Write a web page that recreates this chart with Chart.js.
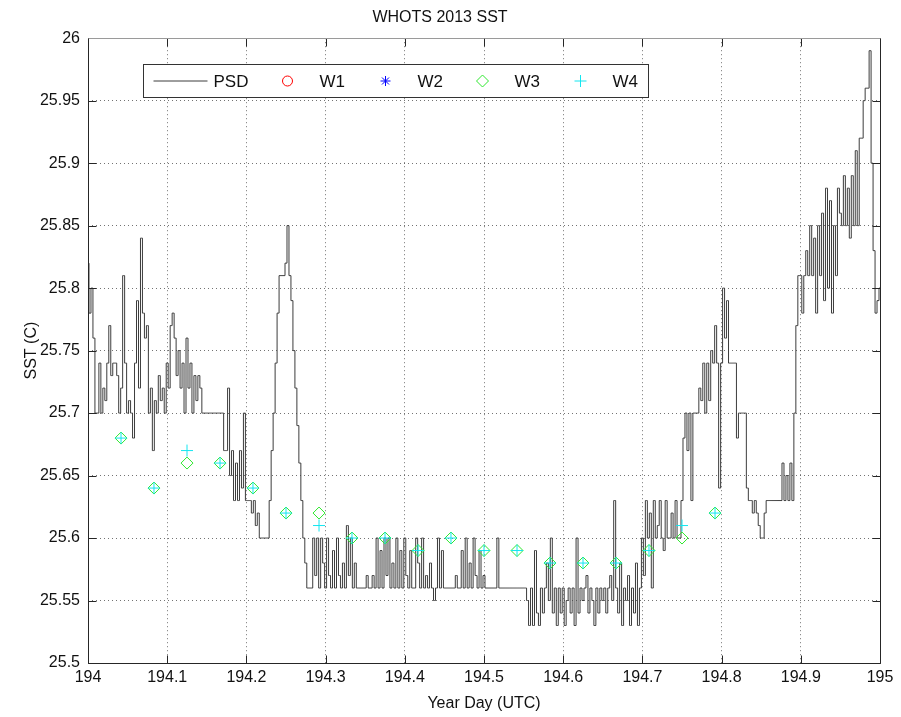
<!DOCTYPE html>
<html>
<head>
<meta charset="utf-8">
<title>WHOTS 2013 SST</title>
<script src="https://cdn.jsdelivr.net/npm/chart.js@4.4.0/dist/chart.umd.min.js"></script>
<style>
  html, body { margin: 0; padding: 0; background: #fff; }
  canvas { display: block; }
</style>
</head>
<body>
<canvas id="sstChart" width="901" height="717"></canvas>
<script>
// PSD record, one sample every 0.0025 day from day 194.0
const psdStart = 194.0;
const psdStep = 0.0025;
const psdSST = [
    25.82,25.78,25.80,25.76,25.70,25.70,25.74,25.70,25.72,25.71,25.74,25.77,25.73,25.74,25.74,25.73,25.70,25.72,25.81,25.74,
    25.70,25.71,25.70,25.68,25.74,25.79,25.72,25.84,25.78,25.76,25.77,25.70,25.72,25.67,25.71,25.70,25.73,25.71,25.72,25.70,
    25.74,25.72,25.77,25.78,25.76,25.73,25.75,25.72,25.74,25.70,25.76,25.72,25.74,25.70,25.73,25.71,25.73,25.72,25.70,25.70,
    25.70,25.70,25.70,25.70,25.70,25.70,25.70,25.70,25.70,25.67,25.67,25.72,25.65,25.67,25.63,25.66,25.63,25.67,25.64,25.70,
    25.63,25.63,25.63,25.62,25.63,25.61,25.62,25.60,25.60,25.60,25.60,25.60,25.63,25.67,25.70,25.74,25.78,25.81,25.81,25.81,
    25.82,25.85,25.81,25.79,25.75,25.72,25.69,25.66,25.63,25.60,25.58,25.56,25.56,25.56,25.60,25.57,25.60,25.56,25.60,25.58,
    25.56,25.60,25.57,25.56,25.59,25.56,25.60,25.57,25.56,25.58,25.56,25.61,25.57,25.60,25.56,25.58,25.56,25.56,25.56,25.56,
    25.56,25.57,25.56,25.56,25.57,25.56,25.60,25.56,25.59,25.56,25.60,25.57,25.60,25.56,25.58,25.56,25.60,25.56,25.59,25.56,
    25.60,25.57,25.56,25.59,25.56,25.56,25.60,25.58,25.56,25.60,25.56,25.57,25.56,25.58,25.56,25.55,25.56,25.60,25.56,25.59,
    25.56,25.56,25.56,25.56,25.56,25.56,25.57,25.56,25.56,25.59,25.56,25.60,25.56,25.58,25.56,25.60,25.57,25.56,25.59,25.56,
    25.57,25.56,25.56,25.56,25.56,25.56,25.56,25.60,25.56,25.56,25.56,25.56,25.56,25.56,25.56,25.56,25.56,25.56,25.56,25.56,
    25.56,25.56,25.55,25.53,25.56,25.53,25.59,25.54,25.53,25.56,25.54,25.56,25.58,25.55,25.60,25.54,25.56,25.53,25.56,25.54,
    25.56,25.53,25.55,25.56,25.54,25.56,25.53,25.60,25.54,25.56,25.55,25.56,25.57,25.54,25.56,25.55,25.53,25.56,25.54,25.56,
    25.55,25.56,25.54,25.56,25.57,25.55,25.63,25.56,25.54,25.58,25.53,25.56,25.55,25.57,25.53,25.56,25.54,25.58,25.53,25.56,
    25.60,25.57,25.63,25.60,25.62,25.56,25.63,25.60,25.61,25.63,25.60,25.59,25.63,25.60,25.60,25.62,25.60,25.63,25.60,25.60,
    25.63,25.68,25.70,25.67,25.70,25.63,25.70,25.70,25.70,25.72,25.71,25.74,25.70,25.74,25.71,25.75,25.74,25.77,25.74,25.64,
    25.74,25.80,25.76,25.79,25.74,25.74,25.74,25.74,25.68,25.70,25.70,25.70,25.70,25.64,25.63,25.63,25.62,25.63,25.62,25.61,
    25.60,25.60,25.62,25.63,25.63,25.63,25.63,25.63,25.63,25.63,25.63,25.66,25.63,25.65,25.63,25.66,25.63,25.70,25.77,25.81,
    25.81,25.78,25.81,25.83,25.81,25.85,25.81,25.84,25.78,25.85,25.81,25.86,25.79,25.88,25.80,25.87,25.78,25.85,25.81,25.88,
    25.86,25.85,25.89,25.85,25.88,25.84,25.89,25.85,25.91,25.85,25.92,25.92,25.95,25.96,25.96,25.99,25.90,25.83,25.78,25.79,
    25.80
];

// hourly sensor samples
const wDays = [194.0417, 194.0833, 194.125, 194.1667, 194.2083, 194.25, 194.2917, 194.3333, 194.375, 194.4167,
               194.4583, 194.5, 194.5417, 194.5833, 194.625, 194.6667, 194.7083, 194.75, 194.7917];
const w1SST = [];
const w2SST = [];
const w3SST = [25.68, 25.64, 25.66, 25.66, 25.64, 25.62, 25.62, 25.60, 25.60, 25.59,
               25.60, 25.59, 25.59, 25.58, 25.58, 25.58, 25.59, 25.60, 25.62];
const w4SST = [25.68, 25.64, 25.67, 25.66, 25.64, 25.62, 25.61, 25.60, 25.60, 25.59,
               25.60, 25.59, 25.59, 25.58, 25.58, 25.58, 25.59, 25.61, 25.62];

const xTicks = [194, 194.1, 194.2, 194.3, 194.4, 194.5, 194.6, 194.7, 194.8, 194.9, 195];
const yTicks = [25.5, 25.55, 25.6, 25.65, 25.7, 25.75, 25.8, 25.85, 25.9, 25.95, 26];

const FONT = 'Liberation Sans, Arial, Helvetica, sans-serif';

const toPoints = (days, vals) => vals.map((v, i) => ({ x: days[i], y: v }));
const psdPoints = psdSST.map((v, i) => ({ x: psdStart + i * psdStep, y: v }));
const fmt = v => String(Number(v.toFixed(2)));

// MATLAB style box, inward ticks and a boxed legend inside the axes
const matlabAxes = {
    id: 'matlabAxes',
    afterDatasetsDraw(chart) {
        const { ctx, chartArea: a, scales: { x, y } } = chart;
        const L = Math.round(a.left) + 0.5, R = Math.round(a.right) + 0.5;
        const T = Math.round(a.top) + 0.5, B = Math.round(a.bottom) + 0.5;
        const tick = 8;
        ctx.save();
        ctx.lineWidth = 1;
        ctx.strokeStyle = '#262626';
        ctx.beginPath();
        x.ticks.forEach(t => {
            const px = Math.round(x.getPixelForValue(t.value)) + 0.5;
            ctx.moveTo(px, B); ctx.lineTo(px, B - tick);
            ctx.moveTo(px, T); ctx.lineTo(px, T + tick);
        });
        y.ticks.forEach(t => {
            const py = Math.round(y.getPixelForValue(t.value)) + 0.5;
            ctx.moveTo(L, py); ctx.lineTo(L + tick, py);
            ctx.moveTo(R, py); ctx.lineTo(R - tick, py);
        });
        ctx.moveTo(L, T); ctx.lineTo(L, B); ctx.lineTo(R, B); ctx.lineTo(R, T);
        ctx.stroke();
        ctx.strokeStyle = '#9a9a9a';
        ctx.beginPath();
        ctx.moveTo(L, T); ctx.lineTo(R, T);
        ctx.stroke();

        // legend
        const bx = L + 55, by = T + 26, bw = 505, bh = 33, cy = by + bh / 2;
        ctx.fillStyle = '#fff';
        ctx.fillRect(bx, by, bw, bh);
        ctx.strokeStyle = '#333';
        ctx.strokeRect(bx, by, bw, bh);
        const slots = [
            { sx: 10, tx: 70 }, { sx: 144, tx: 176 }, { sx: 242, tx: 274 },
            { sx: 339, tx: 371 }, { sx: 437, tx: 469 }
        ];
        ctx.font = '17px ' + FONT;
        ctx.textBaseline = 'middle';
        chart.data.datasets.forEach((ds, i) => {
            const s = slots[i];
            ctx.strokeStyle = ds.borderColor;
            ctx.lineWidth = 1;
            ctx.beginPath();
            if (ds.showLine) {
                ctx.moveTo(bx + s.sx, cy); ctx.lineTo(bx + s.sx + 54, cy);
            } else {
                const mx = bx + s.sx, r = ds.pointRadius;
                if (ds.pointStyle === 'circle') {
                    ctx.arc(mx, cy, r, 0, Math.PI * 2);
                } else if (ds.pointStyle === 'star') {
                    const d = r * 0.7;
                    ctx.moveTo(mx - r, cy); ctx.lineTo(mx + r, cy);
                    ctx.moveTo(mx, cy - r); ctx.lineTo(mx, cy + r);
                    ctx.moveTo(mx - d, cy - d); ctx.lineTo(mx + d, cy + d);
                    ctx.moveTo(mx - d, cy + d); ctx.lineTo(mx + d, cy - d);
                } else if (ds.pointStyle === 'rectRot') {
                    ctx.moveTo(mx, cy - r); ctx.lineTo(mx + r, cy);
                    ctx.lineTo(mx, cy + r); ctx.lineTo(mx - r, cy); ctx.closePath();
                } else {
                    ctx.moveTo(mx - r, cy); ctx.lineTo(mx + r, cy);
                    ctx.moveTo(mx, cy - r); ctx.lineTo(mx, cy + r);
                }
            }
            ctx.stroke();
            ctx.fillStyle = '#111';
            ctx.fillText(ds.label, bx + s.tx, cy + 1);
        });
        ctx.restore();
    }
};

const markerSet = (label, data, color, style, radius, order) => ({
    label: label,
    data: data,
    showLine: false,
    borderColor: color,
    backgroundColor: 'rgba(0,0,0,0)',
    pointStyle: style,
    pointRadius: radius,
    pointBorderWidth: 1,
    order: order
});

const gridOpts = { color: 'rgba(0,0,0,0.55)', lineWidth: 1, drawTicks: false };

new Chart(document.getElementById('sstChart'), {
    type: 'scatter',
    data: {
        datasets: [
            {
                label: 'PSD',
                data: psdPoints,
                showLine: true,
                stepped: 'middle',
                borderColor: '#3c3c3c',
                borderWidth: 1,
                pointRadius: 0,
                order: 5
            },
            markerSet('W1', toPoints(wDays, w1SST), '#ff0000', 'circle', 5, 4),
            markerSet('W2', toPoints(wDays, w2SST), '#0000ff', 'star', 5, 3),
            markerSet('W3', toPoints(wDays, w3SST), '#2ee82e', 'rectRot', 6, 2),
            markerSet('W4', toPoints(wDays, w4SST), '#12e6f0', 'cross', 6, 1)
        ]
    },
    options: {
        responsive: false,
        animation: false,
        events: [],
        layout: { padding: { left: 0, right: 21, top: 0, bottom: 0 } },
        plugins: {
            legend: { display: false },
            tooltip: { enabled: false },
            title: {
                display: true,
                text: 'WHOTS 2013 SST',
                color: '#111',
                font: { family: FONT, size: 16, weight: 'normal' },
                padding: { top: 8, bottom: 11 }
            }
        },
        scales: {
            x: {
                type: 'linear',
                min: 194,
                max: 195,
                afterBuildTicks: s => { s.ticks = xTicks.map(v => ({ value: v })); },
                afterFit: s => { s.height = 54; },
                grid: gridOpts,
                border: { display: false, dash: [1, 3] },
                ticks: { color: '#111', padding: 5, maxRotation: 0, font: { family: FONT, size: 16 }, callback: fmt },
                title: { display: true, text: 'Year Day (UTC)', color: '#111', font: { family: FONT, size: 16 }, padding: { top: 6 } }
            },
            y: {
                type: 'linear',
                min: 25.5,
                max: 26,
                afterBuildTicks: s => { s.ticks = yTicks.map(v => ({ value: v })); },
                afterFit: s => { s.width = 88; },
                grid: gridOpts,
                border: { display: false, dash: [1, 3] },
                ticks: { color: '#111', padding: 8, font: { family: FONT, size: 16 }, callback: fmt },
                title: { display: true, text: 'SST (C)', color: '#111', font: { family: FONT, size: 16 }, padding: { top: 22 } }
            }
        }
    },
    plugins: [matlabAxes]
});
</script>
</body>
</html>
